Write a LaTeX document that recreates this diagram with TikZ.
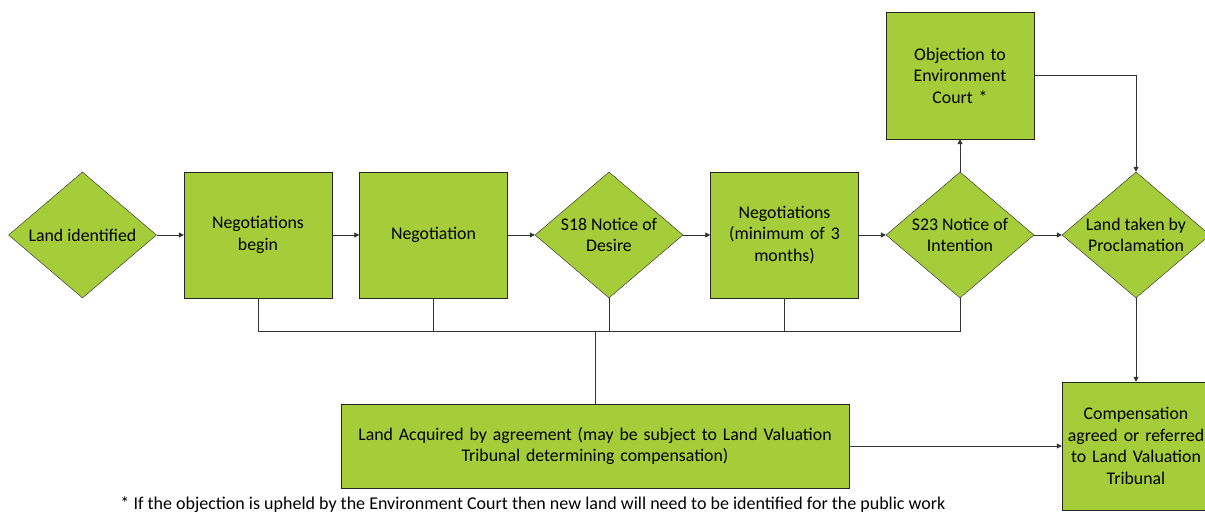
\documentclass[tikz,border=0pt]{standalone}
\usepackage{fontspec}
\setmainfont{Carlito}
\usetikzlibrary{shapes.geometric,arrows.meta}
\definecolor{leaf}{HTML}{A5CD39}

\begin{document}
\begin{tikzpicture} [x=1pt, y=-1pt,
    choice/.style={draw=black!85, fill=leaf, diamond, minimum width=148pt, minimum height=126pt, inner sep=0pt,
        label={[align=center]center:#1}}]
    \tikzstyle{every node}=[align = center, font=\fontsize{17.8}{21.5}\selectfont]
    \tikzstyle{box} = [draw=black!85, fill=leaf, minimum width=148pt, minimum height=126pt, inner sep=2pt, text width=140pt]
    \tikzstyle{link} = [draw=black!80, line width=0.8pt, -{Triangle[length=5pt,width=5pt]}]
    \tikzstyle{wire} = [draw=black!80, line width=0.8pt]
    \useasboundingbox (0,0) rectangle (1205,514);
    % main row
    \node[choice={Land identified}] (land) at (82.5,235) {};
    \node[box] (begin) at (258,235) {Negotiations\\begin};
    \node[box] (negot) at (433.5,235) {Negotiation};
    \node[choice={S18 Notice of\\Desire}] (s18) at (609,235) {};
    \node[box] (months) at (784.5,235) {Negotiations\\(minimum of 3\\months)};
    \node[choice={S23 Notice of\\Intention}] (s23) at (960,235) {};
    \node[choice={Land taken by\\Proclamation}] (procl) at (1136,235) {};
    % side boxes
    \node[box, minimum height=127pt] (obj) at (960,75.5) {Objection to\\Environment\\Court *};
    \node[box, minimum height=128pt] (comp) at (1136,446) {Compensation\\agreed or referred\\to Land Valuation\\Tribunal};
    \node[box, minimum width=508pt, minimum height=84pt, text width=500pt] (acq) at (595,446)
        {Land Acquired by agreement (may be subject to Land Valuation\\Tribunal determining compensation)};
    \node[font=\fontsize{18}{20}\selectfont] (note) at (533,505)
        {* If the objection is upheld by the Environment Court then new land will need to be identified for the public work};
    \coordinate (bus) at (595,331);
    % arrows
    \draw[link] (land) -- (begin);
    \draw[link] (begin) -- (negot);
    \draw[link] (negot) -- (s18);
    \draw[link] (s18) -- (months);
    \draw[link] (months) -- (s23);
    \draw[link] (s23) -- (procl);
    \draw[link] (s23) -- (obj);
    \draw[link] (obj.east) -| (procl.north);
    \draw[link] (procl) -- (comp);
    \draw[link] (acq) -- (comp);
    % agreement lines
    \foreach \n in {begin, negot, s18, months, s23}
        \draw[wire] (\n.south) |- (bus);
    \draw[wire] (bus) -- (acq.north);
\end{tikzpicture}
\end{document}
